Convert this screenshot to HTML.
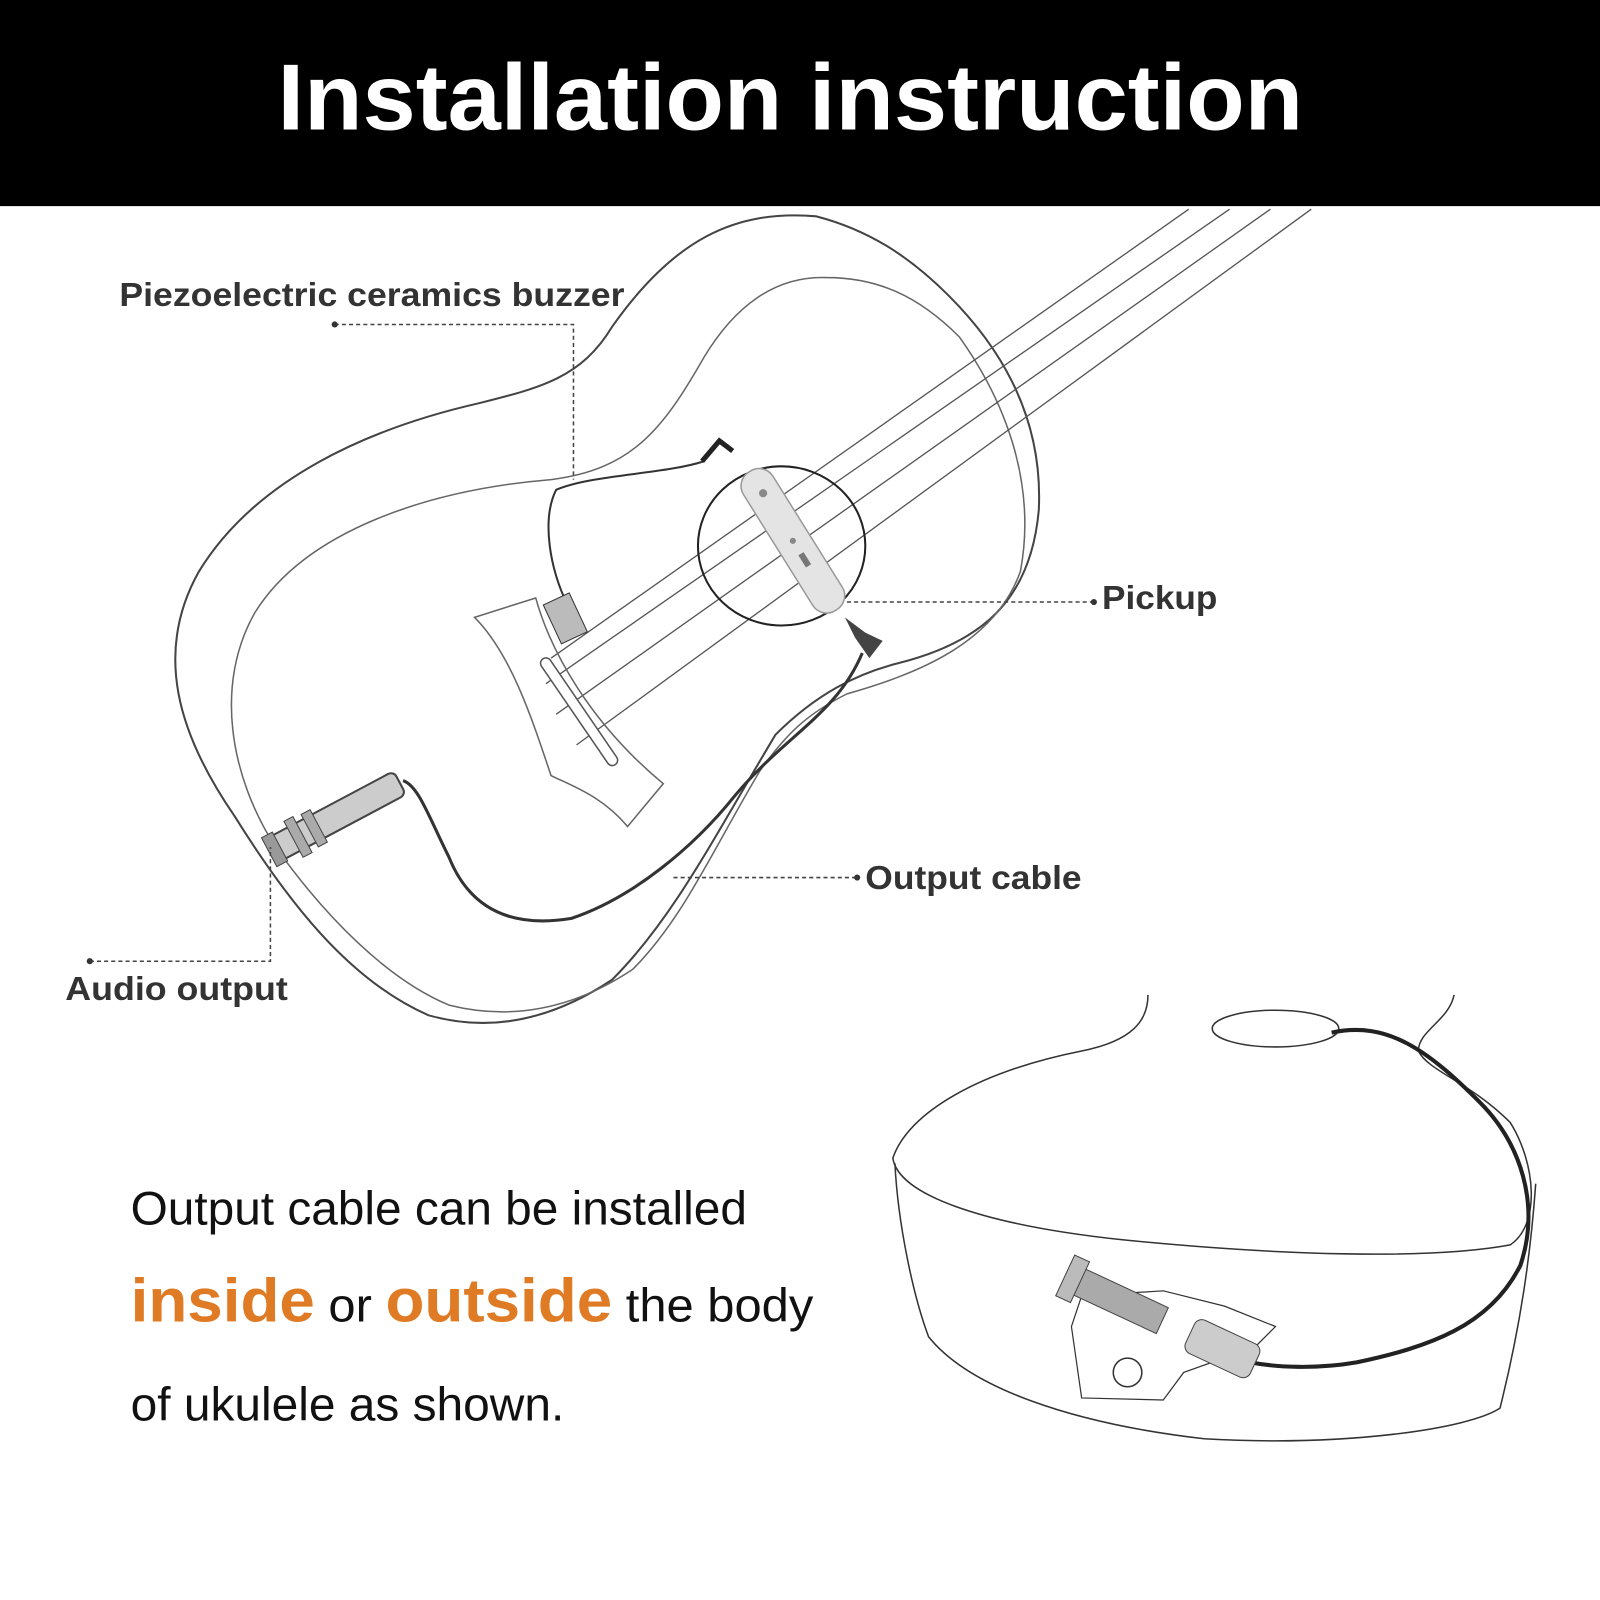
<!DOCTYPE html>
<html><head><meta charset="utf-8"><style>
html,body{margin:0;padding:0;background:#fff}
svg{display:block}
</style></head><body>
<svg width="1600" height="1600" viewBox="0 0 1568 1568" xmlns="http://www.w3.org/2000/svg">
<rect x="0" y="0" width="1568" height="202" fill="#000"/>
<text x="272" y="127" textLength="1005" lengthAdjust="spacingAndGlyphs" font-family="Liberation Sans, sans-serif" font-weight="bold" font-size="92" fill="#fff">Installation instruction</text>

<g fill="none" stroke="#444" stroke-width="2">
<path d="M800,212 C720,205 660,235 600,320 C570,370 530,380 470,395 C360,420 250,470 195,560 C150,640 175,720 230,800 C280,880 340,960 420,995 C480,1012 540,1000 600,960 C660,900 700,820 760,720 C800,680 840,660 880,650 C960,630 1010,590 1018,500 C1022,420 990,350 930,290 C890,250 850,225 800,212 Z"/>
<path d="M810,272 C760,270 720,300 690,350 C650,420 620,460 540,470 C420,480 300,520 250,600 C210,670 225,760 270,830 C320,900 380,960 440,985 C500,1000 560,990 620,950 C670,900 700,830 745,755 C770,720 790,700 830,680 C900,660 975,630 1000,560 C1015,480 990,400 940,330 C900,290 860,272 810,272 Z" stroke="#666" stroke-width="1.5"/>
</g>
<g stroke="#555" stroke-width="1.3">
<line x1="540" y1="645" x2="1165" y2="205"/>
<line x1="535" y1="670" x2="1205" y2="205"/>
<line x1="545" y1="700" x2="1245" y2="205"/>
<line x1="565" y1="730" x2="1285" y2="205"/>
</g>
<path d="M465,605 L525,586 C540,640 580,710 650,768 L615,810 C590,780 560,770 540,760 C520,700 500,640 465,605 Z" fill="none" stroke="#666" stroke-width="1.5"/>
<path d="M535,650 L600,745" stroke="#555" stroke-width="12" stroke-linecap="round" fill="none"/>
<path d="M535,650 L600,745" stroke="#fff" stroke-width="9" stroke-linecap="round" fill="none"/>
<ellipse cx="766" cy="535" rx="82" ry="78" fill="none" stroke="#222" stroke-width="2"/>
<g transform="translate(777,530) rotate(-32)">
<rect x="-17" y="-80" width="34" height="160" rx="16" fill="#e4e4e4" stroke="#999" stroke-width="1.5"/>
<circle cx="0" cy="-55" r="4" fill="#888"/><circle cx="0" cy="0" r="3" fill="#888"/><rect x="-3" y="15" width="6" height="14" fill="#777"/>
</g>
<path d="M690,452 C650,465 580,465 545,480 C530,510 540,560 555,590" fill="none" stroke="#333" stroke-width="2"/>
<path d="M688,452 L705,432 L718,442" fill="none" stroke="#222" stroke-width="5"/>
<rect x="540" y="585" width="28" height="42" transform="rotate(-25 554 606)" fill="#bbb" stroke="#333"/>
<path d="M828,605 L848,620 L865,628 L852,645 L838,625 Z" fill="#444"/>
<path d="M845,640 C820,700 770,720 720,780 C680,830 620,880 560,900 C500,910 460,890 440,840 C420,800 410,770 395,765" fill="none" stroke="#333" stroke-width="3"/>
<g transform="translate(330,800) rotate(-28)">
<rect x="-70" y="-13" width="140" height="26" rx="6" fill="#ccc" stroke="#444" stroke-width="2"/>
<rect x="-48" y="-20" width="10" height="40" fill="#aaa" stroke="#444"/>
<rect x="-30" y="-18" width="10" height="36" fill="#aaa" stroke="#444"/>
<rect x="-75" y="-16" width="12" height="32" fill="#999" stroke="#444"/>
</g>
<g fill="none" stroke="#444" stroke-width="1.5" stroke-dasharray="4,3">
<path d="M328,318 L562,318 L562,470"/>
<path d="M830,590 L1072,590"/>
<path d="M660,860 L840,860"/>
<path d="M88,942 L265,942 L265,830"/>
</g>
<g fill="#333"><circle cx="328" cy="318" r="3"/><circle cx="1072" cy="590" r="3"/><circle cx="840" cy="860" r="3"/><circle cx="88" cy="942" r="3"/></g>
<g font-family="Liberation Sans, sans-serif" font-weight="bold" font-size="33" fill="#333">
<text x="117" y="300" textLength="495" lengthAdjust="spacingAndGlyphs">Piezoelectric ceramics buzzer</text>
<text x="1080" y="597" textLength="113" lengthAdjust="spacingAndGlyphs">Pickup</text>
<text x="848" y="871" textLength="212" lengthAdjust="spacingAndGlyphs">Output cable</text>
<text x="64" y="980" textLength="218" lengthAdjust="spacingAndGlyphs">Audio output</text>
</g>
<g font-family="Liberation Sans, sans-serif" font-size="46" fill="#111">
<text x="128" y="1200" textLength="604" lengthAdjust="spacingAndGlyphs">Output cable can be installed</text>
<text x="128" y="1295" textLength="669" lengthAdjust="spacingAndGlyphs"><tspan fill="#e07b25" font-weight="bold" font-size="60">inside</tspan> or <tspan fill="#e07b25" font-weight="bold" font-size="60">outside</tspan> the body</text>
<text x="128" y="1392" textLength="425" lengthAdjust="spacingAndGlyphs">of ukulele as shown.</text>
</g>
<g fill="none" stroke="#333" stroke-width="1.5">
<path d="M1125,975 C1125,1000 1110,1020 1060,1030 C960,1050 890,1090 875,1135 C880,1170 960,1200 1100,1215 C1250,1230 1400,1235 1480,1220 C1510,1200 1505,1140 1480,1100 C1440,1060 1400,1050 1390,1030 C1390,1010 1420,1000 1425,975"/>
<path d="M877,1140 C880,1200 895,1270 910,1310 C950,1360 1050,1395 1180,1410 C1320,1418 1440,1400 1470,1380 C1490,1300 1500,1230 1505,1160"/>
<ellipse cx="1250" cy="1008" rx="62" ry="18"/>
<path d="M1050,1300 L1060,1270 L1140,1265 L1200,1280 L1250,1300 L1230,1320 L1160,1345 L1140,1372 L1060,1370 Z" stroke-width="1.2"/>
<circle cx="1105" cy="1345" r="14"/>
</g>
<path d="M1305,1012 C1360,1000 1400,1030 1450,1080 C1490,1120 1510,1180 1490,1240 C1460,1300 1400,1320 1330,1335 C1290,1342 1250,1340 1225,1335" fill="none" stroke="#222" stroke-width="4"/>
<g transform="translate(1130,1290) rotate(25)">
<rect x="-90" y="-14" width="100" height="28" fill="#aaa" stroke="#444"/>
<rect x="-95" y="-22" width="16" height="44" fill="#bbb" stroke="#444"/>
<rect x="40" y="-18" width="70" height="36" rx="8" fill="#ccc" stroke="#444"/>
</g>
</svg>
</body></html>
